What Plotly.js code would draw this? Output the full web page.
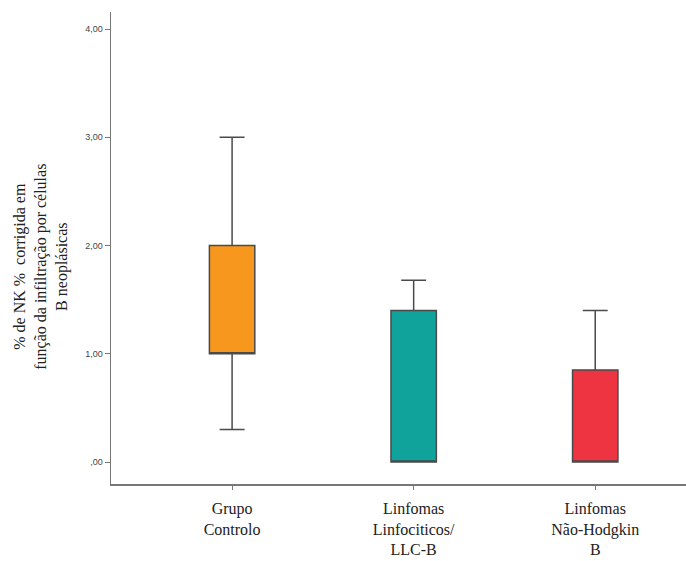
<!DOCTYPE html>
<html>
<head>
<meta charset="utf-8">
<script src="https://cdn.plot.ly/plotly-3.0.1.min.js"></script>
<style>html,body{margin:0;padding:0;background:#fff;}#chart{width:686px;height:561px;}</style>
</head>
<body>
<div id="chart"></div>
<script>
// Categories (x tick labels)
var categories = ["Grupo<br>Controlo", "Linfomas<br>Linfociticos/<br>LLC-B", "Linfomas<br>Não-Hodgkin<br>B"];
// Box statistics per group
var lowerFence = [0.30, 0.00, 0.00];
var q1Values   = [1.00, 0.00, 0.00];
var medians    = [1.00, 0.00, 0.00];
var q3Values   = [2.00, 1.40, 0.85];
var upperFence = [3.00, 1.68, 1.40];
var fillColors = ["#f7971e", "#0fa39c", "#ee3440"];
// Y tick labels
var yTickVals = [0, 1, 2, 3, 4];
var yTickText = [",00", "1,00", "2,00", "3,00", "4,00"];
var yTitleLines = ["% de NK %  corrigida em", "função da infiltração por células", "B neoplásicas"];

var traces = categories.map(function (c, i) {
  return {
    type: "box",
    x: [c],
    q1: [q1Values[i]],
    median: [medians[i]],
    q3: [q3Values[i]],
    lowerfence: [lowerFence[i]],
    upperfence: [upperFence[i]],
    boxpoints: false,
    fillcolor: fillColors[i],
    line: { color: "#4a4a4a", width: 1.5 },
    width: 0.25,
    whiskerwidth: 0.55,
    showlegend: false,
    hoverinfo: "skip"
  };
});

var layout = {
  width: 686,
  height: 561,
  margin: { l: 111, r: 0, t: 12, b: 77 },
  paper_bgcolor: "#ffffff",
  plot_bgcolor: "#ffffff",
  boxmode: "overlay",
  showlegend: false,
  xaxis: {
    type: "category",
    range: [-0.667, 2.5],
    showline: true,
    linecolor: "#777",
    linewidth: 1.5,
    ticks: "outside",
    ticklen: 4,
    tickcolor: "#777",
    showgrid: false,
    zeroline: false,
    ticklabelstandoff: 5,
    tickfont: { family: "Liberation Serif", size: 16, color: "#222" }
  },
  yaxis: {
    range: [-0.203, 4.157],
    tickvals: yTickVals,
    ticktext: yTickText,
    showline: true,
    linecolor: "#777",
    linewidth: 1.5,
    ticks: "outside",
    ticklen: 5,
    tickcolor: "#777",
    showgrid: false,
    zeroline: false,
    tickfont: { family: "Liberation Sans, sans-serif", size: 9, color: "#444" }
  },
  annotations: [{
    text: yTitleLines.join("<br>"),
    xref: "paper", yref: "paper",
    x: -0.122, y: 0.46,
    xanchor: "center", yanchor: "middle",
    textangle: -90,
    showarrow: false,
    font: { family: "Liberation Serif", size: 16, color: "#222" }
  }]
};

Plotly.newPlot("chart", traces, layout, { displayModeBar: false, staticPlot: true });
</script>
</body>
</html>
